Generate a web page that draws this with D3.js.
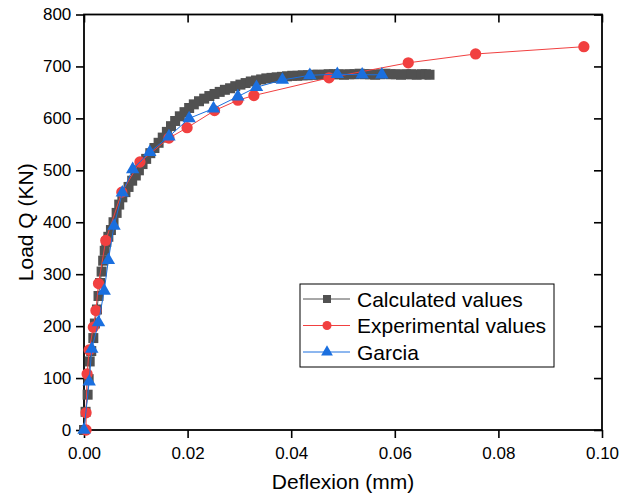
<!DOCTYPE html>
<html>
<head>
<meta charset="utf-8">
<script src="https://cdn.jsdelivr.net/npm/d3@7"></script>
<style>
  body { margin: 0; background: #fff; }
  svg { font-family: "Liberation Sans", Arial, sans-serif; }
</style>
</head>
<body>
<div id="chart"></div>
<script>
// Calculated values
const calcX = [0, 0.0003, 0.0007, 0.0009, 0.0011, 0.0014, 0.0018, 0.0021, 0.0025, 0.0028,
    0.0031, 0.0034, 0.0037, 0.0040, 0.0043, 0.0047, 0.0052, 0.0057, 0.0063, 0.0068,
    0.0074, 0.0080, 0.0086, 0.0093, 0.0100, 0.0106, 0.0113, 0.0120, 0.0128, 0.0136,
    0.0144, 0.0152, 0.0160, 0.0168, 0.0176, 0.0185, 0.0194, 0.0203, 0.0212, 0.0222,
    0.0232, 0.0242, 0.0252, 0.0262, 0.0272, 0.0282, 0.0292, 0.0302, 0.0312, 0.0322,
    0.0332, 0.0342, 0.0352, 0.0362, 0.0372, 0.0382, 0.0392, 0.0402, 0.0412, 0.0422,
    0.0432, 0.0442, 0.0452, 0.0462, 0.0472, 0.0482, 0.0492, 0.0502, 0.0512, 0.0522,
    0.0532, 0.0542, 0.0552, 0.0562, 0.0572, 0.0582, 0.0592, 0.0602, 0.0612, 0.0622,
    0.0632, 0.0642, 0.0652, 0.0660, 0.0667];
const calcY = [0, 35, 68, 98, 132, 152, 177, 205, 232, 258,
    283, 305, 326, 345, 362, 372, 385, 400, 418, 434,
    448, 458, 468, 480, 490, 500, 512, 522, 533, 543,
    553, 563, 574, 585, 595, 604, 612, 620, 627, 633,
    638, 643, 647, 651, 655, 658, 662, 665, 668, 671,
    673, 675, 677, 678, 679, 680, 681, 682, 682, 683,
    683, 684, 684, 684, 685, 685, 685, 684, 685, 685,
    686, 685, 685, 684, 685, 686, 685, 685, 684, 685,
    685, 684, 685, 685, 684];

// Experimental values
const expX = [0.0004, 0.0004, 0.0006, 0.0010, 0.0018, 0.0023, 0.0028, 0.0042, 0.0073, 0.0108,
    0.0164, 0.0199, 0.0252, 0.0297, 0.0328, 0.0473, 0.0626, 0.0756, 0.0965];
const expY = [0, 33, 108, 154, 198, 230, 282, 365, 458, 516,
    562, 582, 615, 635, 644, 678, 707, 724, 738];

// Garcia
const garX = [0, 0.0010, 0.0015, 0.0028, 0.0039, 0.0047, 0.0058, 0.0074, 0.0094, 0.0127,
    0.0164, 0.0203, 0.0250, 0.0297, 0.0333, 0.0383, 0.0436, 0.0489, 0.0537, 0.0575];
const garY = [0, 93, 156, 207, 268, 327, 393, 457, 502, 535,
    565, 600, 619, 642, 660, 674, 683, 685, 684, 684];

const xTicks = [0, 0.02, 0.04, 0.06, 0.08, 0.10];
const yTicks = [0, 100, 200, 300, 400, 500, 600, 700, 800];

const seriesNames = ['Calculated values', 'Experimental values', 'Garcia'];
const seriesColors = ['#515151', '#f14040', '#1a6fdf'];

const width = 632;
const height = 502;
const margin = { top: 14.5, right: 30, bottom: 72, left: 84 };
const innerW = width - margin.left - margin.right;
const innerH = height - margin.top - margin.bottom;

const svg = d3.select('#chart')
    .append('svg')
    .attr('width', width)
    .attr('height', height);

const g = svg.append('g')
    .attr('transform', `translate(${margin.left},${margin.top})`);

const x = d3.scaleLinear().domain([0, 0.10]).range([0, innerW]);
const y = d3.scaleLinear().domain([0, 800]).range([innerH, 0]);

// axes
const xAxis = g.append('g')
    .attr('transform', `translate(0,${innerH})`)
    .call(d3.axisBottom(x).tickValues(xTicks).tickSize(8).tickSizeOuter(0).tickFormat(d3.format('.2f')));
const yAxis = g.append('g')
    .call(d3.axisLeft(y).tickValues(yTicks).tickSize(8).tickSizeOuter(0));
const topAxis = g.append('g')
    .call(d3.axisTop(x).tickValues(xTicks).tickSize(-8).tickSizeOuter(0).tickFormat(''));
const rightAxis = g.append('g')
    .attr('transform', `translate(${innerW},0)`)
    .call(d3.axisRight(y).tickValues(yTicks).tickSize(-8).tickSizeOuter(0).tickFormat(''));

[xAxis, yAxis, topAxis, rightAxis].forEach(a => {
    a.select('.domain').remove();
    a.selectAll('line').attr('stroke', '#000').attr('stroke-width', 1.6);
});
xAxis.selectAll('text').attr('font-size', 17).attr('fill', '#000').attr('dy', '1.05em');
yAxis.selectAll('text').attr('font-size', 17).attr('fill', '#000').attr('dx', '-0.1em');

g.append('rect')
    .attr('width', innerW)
    .attr('height', innerH)
    .attr('fill', 'none')
    .attr('stroke', '#000')
    .attr('stroke-width', 1.8);

// axis titles
svg.append('text')
    .attr('x', margin.left + innerW / 2)
    .attr('y', 489)
    .attr('text-anchor', 'middle')
    .attr('font-size', 21)
    .text('Deflexion (mm)');

svg.append('text')
    .attr('transform', `translate(33,${margin.top + innerH / 2}) rotate(-90)`)
    .attr('text-anchor', 'middle')
    .attr('font-size', 21)
    .text('Load Q (KN)');

// series
const toPoints = (xs, ys) => xs.map((v, i) => [v, ys[i]]);
const allSeries = [
    { pts: toPoints(calcX, calcY), sym: d3.symbolSquare, size: 100, legSize: 64 },
    { pts: toPoints(expX, expY), sym: d3.symbolCircle, size: 100, legSize: 64 },
    { pts: toPoints(garX, garY), sym: d3.symbolTriangle, size: 78, legSize: 60 }
];

const line = d3.line().x(d => x(d[0])).y(d => y(d[1]));

allSeries.forEach((s, i) => {
    g.append('path')
        .datum(s.pts)
        .attr('d', line)
        .attr('fill', 'none')
        .attr('stroke', seriesColors[i])
        .attr('stroke-width', 1);

    g.selectAll(null)
        .data(s.pts)
        .enter()
        .append('path')
        .attr('transform', d => `translate(${x(d[0])},${y(d[1])})`)
        .attr('d', d3.symbol().type(s.sym).size(s.size))
        .attr('fill', seriesColors[i]);
});

// legend
const legend = svg.append('g').attr('transform', 'translate(300,284)');
legend.append('rect')
    .attr('width', 254)
    .attr('height', 83)
    .attr('fill', '#fff')
    .attr('stroke', '#000')
    .attr('stroke-width', 1);

seriesNames.forEach((name, i) => {
    const row = legend.append('g').attr('transform', `translate(0,${15 + i * 26.5})`);
    row.append('line')
        .attr('x1', 3).attr('x2', 50)
        .attr('stroke', seriesColors[i])
        .attr('stroke-width', 1);
    row.append('path')
        .attr('transform', 'translate(27,0)')
        .attr('d', d3.symbol().type(allSeries[i].sym).size(allSeries[i].legSize))
        .attr('fill', seriesColors[i]);
    row.append('text')
        .attr('x', 57)
        .attr('y', 7.5)
        .attr('font-size', 21)
        .text(name);
});
</script>
</body>
</html>
